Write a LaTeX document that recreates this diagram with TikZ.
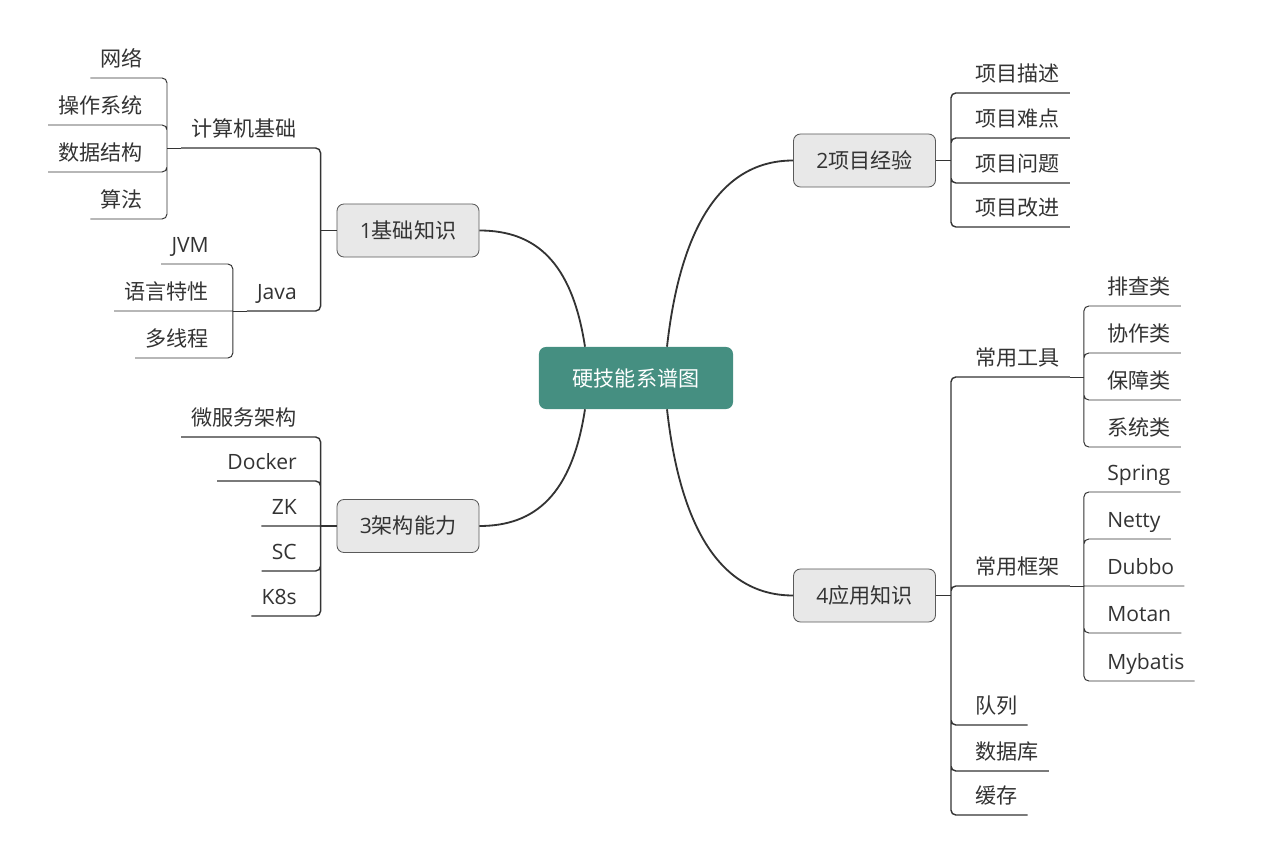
\documentclass[tikz,border=0pt]{standalone}
\usepackage{fontspec}
\setmainfont{Noto Sans CJK SC}
\newfontfamily\lat{Open Sans}
\definecolor{ink}{HTML}{333333}
\definecolor{rootfill}{HTML}{458F81}
\definecolor{topicfill}{HTML}{E8E8E8}
\definecolor{topicline}{HTML}{5A5A5A}

\begin{document}
\begin{tikzpicture}[x=0.025cm, y=-0.025cm]
        \tikzstyle{every node}=[rectangle, inner sep=0pt, font=\fontsize{15}{18}\selectfont, text=ink]
        \tikzstyle{root}=[rounded corners=5pt, fill=rootfill, text=white, minimum width=4.85cm, minimum height=1.55cm]
        \tikzstyle{topic}=[rounded corners=5pt, fill=topicfill, draw=topicline, line width=0.6pt, minimum width=3.55cm, minimum height=1.325cm]
        \tikzstyle{lleaf}=[anchor=south east, inner xsep=7.1pt, text height=11pt, text depth=7.9pt]
        \tikzstyle{rleaf}=[anchor=south west, inner xsep=7.1pt, text height=11pt, text depth=7.9pt]
        \tikzstyle{en}=[font=\fontsize{15}{18}\selectfont\lat]
        \tikzstyle{curve}=[ink, line width=1.3pt]
        \tikzstyle{branch}=[ink, line width=1pt, rounded corners=3.5pt]
        \tikzstyle{twig}=[ink, line width=0.7pt, rounded corners=3.5pt]

        \useasboundingbox (0,0) rectangle (1286,845);

        \node[root]  (root) at (636,378)   {硬技能系谱图};
        \node[topic] (b1)   at (408,230.5) {{\lat 1}基础知识};
        \node[topic] (b2)   at (864.5,160.5) {{\lat 2}项目经验};
        \node[topic] (b3)   at (408,526)   {{\lat 3}架构能力};
        \node[topic] (b4)   at (864.5,595.5) {{\lat 4}应用知识};

        \node[lleaf]     (jsj)  at (307,148) {计算机基础};
        \node[lleaf, en] (java) at (307,311) {Java};
        \node[lleaf]     (wl)   at (153,78)  {网络};
        \node[lleaf]     (czxt) at (153,125) {操作系统};
        \node[lleaf]     (sjjg) at (153,172) {数据结构};
        \node[lleaf]     (sf)   at (153,219) {算法};
        \node[lleaf, en] (jvm)  at (219,264) {JVM};
        \node[lleaf]     (yytx) at (219,311) {语言特性};
        \node[lleaf]     (dxc)  at (219,358) {多线程};

        \node[lleaf]     (wfw)    at (307,437) {微服务架构};
        \node[lleaf, en] (docker) at (307,481) {Docker};
        \node[lleaf, en] (zk)     at (307,526) {ZK};
        \node[lleaf, en] (sc)     at (307,571) {SC};
        \node[lleaf, en] (k8s)    at (307,616) {K8s};

        \node[rleaf] (ms) at (965,93)  {项目描述};
        \node[rleaf] (nd) at (965,138) {项目难点};
        \node[rleaf] (wt) at (965,183) {项目问题};
        \node[rleaf] (gj) at (965,227) {项目改进};

        \node[rleaf]     (cygj)    at (965,377)  {常用工具};
        \node[rleaf]     (cykj)    at (965,586)  {常用框架};
        \node[rleaf]     (dl)      at (965,725)  {队列};
        \node[rleaf]     (sjk)     at (965,771)  {数据库};
        \node[rleaf]     (hc)      at (965,815)  {缓存};
        \node[rleaf]     (pc)      at (1097,306) {排查类};
        \node[rleaf]     (xz)      at (1097,353) {协作类};
        \node[rleaf]     (bz)      at (1097,400) {保障类};
        \node[rleaf]     (xt)      at (1097,447) {系统类};
        \node[rleaf, en] (spring)  at (1097,492) {Spring};
        \node[rleaf, en] (netty)   at (1097,539) {Netty};
        \node[rleaf, en] (dubbo)   at (1097,586) {Dubbo};
        \node[rleaf, en] (motan)   at (1097,633) {Motan};
        \node[rleaf, en] (mybatis) at (1097,681) {Mybatis};

        \draw[curve] ([xshift=-1.275cm]root.north) .. controls +(-13,-85) and +(56,0) .. (b1.east);
        \draw[curve] ([xshift=0.775cm]root.north) .. controls +(13,-117) and +(-73,0) .. (b2.west);
        \draw[curve] ([xshift=-1.275cm]root.south) .. controls +(-13,85) and +(56,0) .. (b3.east);
        \draw[curve] ([xshift=0.775cm]root.south) .. controls +(13,117) and +(-73,0) .. (b4.west);

        \draw[branch] (b1.west) -- ++(-16,0) coordinate (b1c);
        \draw[branch] (b1c) |- (jsj.south west) (b1c) |- (java.south west);
        \draw[twig] (jsj.south west) -- ++(-14,0) coordinate (jsjc);
        \draw[twig] (jsjc) |- (wl.south west) (jsjc) |- (czxt.south west) (jsjc) |- (sjjg.south west) (jsjc) |- (sf.south west);
        \draw[twig] (java.south west) -- ++(-14,0) coordinate (javac);
        \draw[twig] (javac) |- (jvm.south west) (javac) -- (yytx.south west) (javac) |- (dxc.south west);

        \draw[branch] (b3.west) -- ++(-16,0) coordinate (b3c);
        \draw[branch] (b3c) |- (wfw.south west) (b3c) |- (docker.south west) (b3c) -- (zk.south west) (b3c) |- (sc.south west) (b3c) |- (k8s.south west);

        \draw[branch] (b2.east) -- ++(15,0) coordinate (b2c);
        \draw[branch] (b2c) |- (ms.south east) (b2c) |- (nd.south east) (b2c) |- (wt.south east) (b2c) |- (gj.south east);

        \draw[branch] (b4.east) -- ++(15,0) coordinate (b4c);
        \draw[branch] (b4c) |- (cygj.south east) (b4c) |- (cykj.south east) (b4c) |- (dl.south east) (b4c) |- (sjk.south east) (b4c) |- (hc.south east);
        \draw[twig] (cygj.south east) -- ++(14,0) coordinate (cygjc);
        \draw[twig] (cygjc) |- (pc.south east) (cygjc) |- (xz.south east) (cygjc) |- (bz.south east) (cygjc) |- (xt.south east);
        \draw[twig] (cykj.south east) -- ++(14,0) coordinate (cykjc);
        \draw[twig] (cykjc) |- (spring.south east) (cykjc) |- (netty.south east) (cykjc) -- (dubbo.south east) (cykjc) |- (motan.south east) (cykjc) |- (mybatis.south east);
    \end{tikzpicture}
\end{document}
